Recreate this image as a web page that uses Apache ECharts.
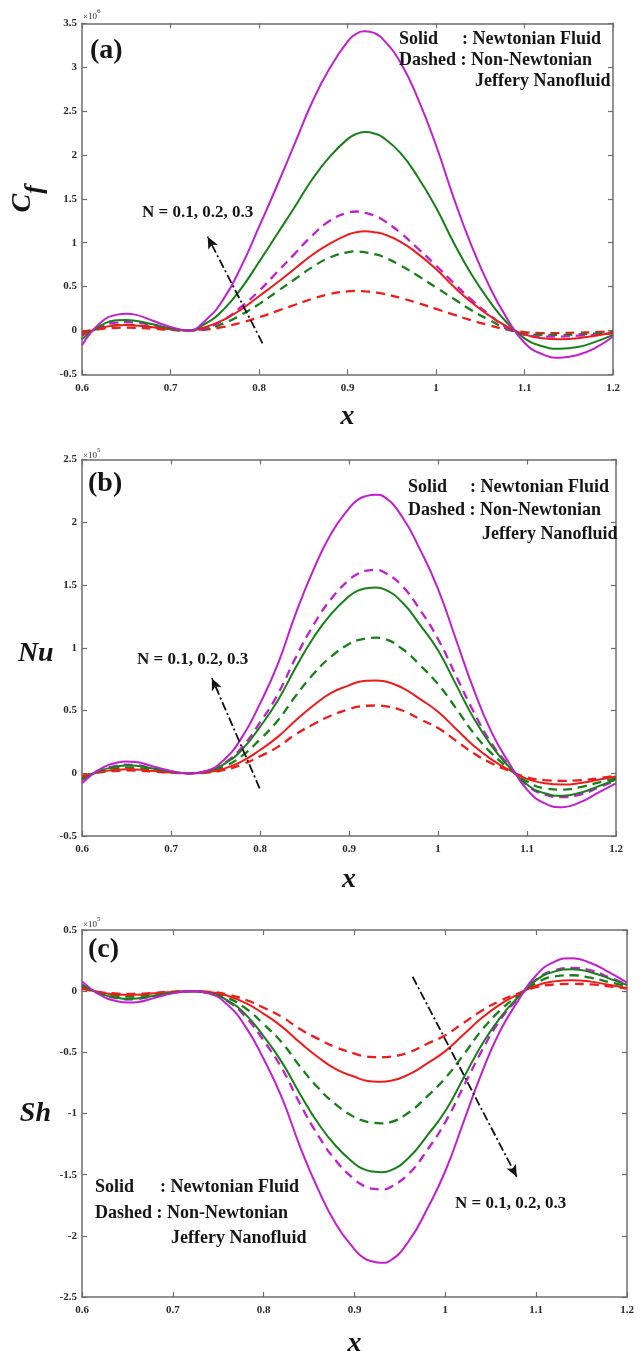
<!DOCTYPE html>
<html>
<head>
<meta charset="utf-8">
<script src="https://cdn.jsdelivr.net/npm/echarts@6/dist/echarts.min.js"></script>
<style>
  html, body { margin: 0; padding: 0; background: #ffffff; }
  #chart { width: 641px; height: 1351px; }
</style>
</head>
<body>
<div id="chart"></div>
<script>
// Axial position x along the channel wall
const xs = [0.60,0.62,0.64,0.65,0.66,0.68,0.70,0.72,0.74,0.76,0.78,0.80,0.82,0.84,0.86,0.88,0.90,0.91,
            0.92,0.93,0.94,0.96,0.98,1.00,1.02,1.04,1.06,1.08,1.10,1.12,1.14,1.16,1.18,1.20];

// Skin friction coefficient C_f (x 10^6)
const cfSolidN1 = [-0.045,0.025,0.058,0.061,0.055,0.035,0.012,0.0,0.04,0.12,0.24,0.39,0.54,0.70,0.86,0.99,1.09,1.12,
                   1.13,1.12,1.10,1.01,0.87,0.70,0.50,0.32,0.17,0.045,-0.045,-0.09,-0.10,-0.09,-0.06,-0.027];
const cfSolidN2 = [-0.10,0.05,0.115,0.12,0.11,0.07,0.025,0.0,0.08,0.24,0.48,0.78,1.09,1.40,1.72,1.98,2.18,2.24,
                   2.26,2.245,2.20,2.02,1.74,1.40,1.00,0.64,0.34,0.09,-0.09,-0.18,-0.21,-0.19,-0.13,-0.05];
const cfSolidN3 = [-0.17,0.08,0.18,0.19,0.18,0.11,0.04,0.0,0.12,0.36,0.73,1.18,1.64,2.12,2.60,2.99,3.29,3.38,
                   3.41,3.39,3.32,3.05,2.63,2.11,1.51,0.97,0.51,0.14,-0.14,-0.27,-0.31,-0.28,-0.20,-0.07];
const cfDashN1  = [-0.02,0.015,0.03,0.032,0.03,0.02,0.006,0.0,0.01,0.04,0.09,0.15,0.22,0.29,0.36,0.415,0.445,0.45,
                   0.445,0.435,0.42,0.37,0.31,0.245,0.18,0.115,0.06,0.01,-0.02,-0.03,-0.03,-0.025,-0.02,-0.01];
const cfDashN2  = [-0.04,0.03,0.06,0.064,0.06,0.04,0.012,0.0,0.02,0.08,0.18,0.30,0.44,0.58,0.72,0.83,0.89,0.90,
                   0.89,0.87,0.84,0.74,0.62,0.49,0.36,0.23,0.12,0.02,-0.04,-0.05,-0.05,-0.045,-0.035,-0.02];
const cfDashN3  = [-0.06,0.045,0.09,0.095,0.09,0.06,0.018,0.0,0.03,0.12,0.27,0.45,0.66,0.87,1.08,1.25,1.34,1.355,
                   1.34,1.31,1.26,1.11,0.93,0.74,0.54,0.35,0.18,0.03,-0.05,-0.07,-0.07,-0.06,-0.05,-0.03];

// Nusselt number Nu (x 10^5)
const nuSolidN1 = [-0.03,0.011,0.028,0.031,0.03,0.018,0.006,0.0,0.007,0.037,0.096,0.185,0.29,0.42,0.54,0.64,0.70,0.727,
                   0.738,0.74,0.733,0.68,0.59,0.49,0.355,0.22,0.11,0.026,-0.045,-0.08,-0.09,-0.078,-0.052,-0.026];
const nuSolidN2 = [-0.05,0.02,0.055,0.062,0.06,0.037,0.012,0.0,0.015,0.075,0.19,0.37,0.58,0.84,1.08,1.27,1.41,1.455,
                   1.475,1.48,1.465,1.36,1.18,0.98,0.71,0.44,0.22,0.05,-0.09,-0.16,-0.18,-0.155,-0.105,-0.05];
const nuSolidN3 = [-0.08,0.03,0.085,0.093,0.09,0.055,0.018,0.0,0.02,0.11,0.29,0.555,0.87,1.27,1.62,1.91,2.11,2.18,
                   2.21,2.22,2.20,2.04,1.78,1.47,1.07,0.67,0.33,0.08,-0.13,-0.24,-0.27,-0.23,-0.155,-0.08];
const nuDashN1  = [-0.02,0.008,0.02,0.023,0.022,0.013,0.004,0.0,0.005,0.027,0.07,0.135,0.21,0.31,0.39,0.46,0.51,0.53,
                   0.538,0.54,0.535,0.50,0.43,0.36,0.26,0.16,0.08,0.019,-0.032,-0.055,-0.06,-0.055,-0.04,-0.02];
const nuDashN2  = [-0.04,0.016,0.04,0.045,0.043,0.027,0.009,0.0,0.011,0.054,0.14,0.27,0.42,0.615,0.79,0.93,1.03,1.06,
                   1.075,1.08,1.07,0.99,0.86,0.71,0.52,0.32,0.16,0.038,-0.065,-0.12,-0.13,-0.11,-0.075,-0.04];
const nuDashN3  = [-0.055,0.025,0.06,0.068,0.065,0.04,0.013,0.0,0.016,0.08,0.21,0.405,0.63,0.92,1.18,1.39,1.54,1.59,
                   1.615,1.62,1.60,1.49,1.30,1.07,0.78,0.49,0.24,0.06,-0.095,-0.17,-0.19,-0.17,-0.115,-0.055];

// Sherwood number Sh (x 10^5)
const shSolidN1 = [0.03,-0.011,-0.028,-0.031,-0.03,-0.018,-0.006,0.0,-0.007,-0.037,-0.096,-0.185,-0.29,-0.42,-0.54,-0.64,-0.70,-0.727,
                   -0.738,-0.74,-0.733,-0.68,-0.59,-0.49,-0.355,-0.22,-0.11,-0.026,0.045,0.08,0.09,0.078,0.052,0.026];
const shSolidN2 = [0.05,-0.02,-0.055,-0.062,-0.06,-0.037,-0.012,0.0,-0.015,-0.075,-0.19,-0.37,-0.58,-0.84,-1.08,-1.27,-1.41,-1.455,
                   -1.475,-1.48,-1.465,-1.36,-1.18,-0.98,-0.71,-0.44,-0.22,-0.05,0.09,0.16,0.18,0.155,0.105,0.05];
const shSolidN3 = [0.08,-0.03,-0.085,-0.093,-0.09,-0.055,-0.018,0.0,-0.02,-0.11,-0.29,-0.555,-0.87,-1.27,-1.62,-1.91,-2.11,-2.18,
                   -2.21,-2.22,-2.20,-2.04,-1.78,-1.47,-1.07,-0.67,-0.33,-0.08,0.13,0.24,0.27,0.23,0.155,0.07];
const shDashN1  = [0.02,-0.008,-0.02,-0.023,-0.022,-0.013,-0.004,0.0,-0.005,-0.027,-0.07,-0.135,-0.21,-0.31,-0.39,-0.46,-0.51,-0.53,
                   -0.538,-0.54,-0.535,-0.50,-0.43,-0.36,-0.26,-0.16,-0.08,-0.019,0.032,0.055,0.06,0.055,0.04,0.02];
const shDashN2  = [0.04,-0.016,-0.04,-0.045,-0.043,-0.027,-0.009,0.0,-0.011,-0.054,-0.14,-0.27,-0.42,-0.615,-0.79,-0.93,-1.03,-1.06,
                   -1.075,-1.08,-1.07,-0.99,-0.86,-0.71,-0.52,-0.32,-0.16,-0.038,0.065,0.12,0.13,0.11,0.075,0.04];
const shDashN3  = [0.055,-0.025,-0.06,-0.068,-0.065,-0.04,-0.013,0.0,-0.016,-0.08,-0.21,-0.405,-0.63,-0.92,-1.18,-1.39,-1.54,-1.59,
                   -1.615,-1.62,-1.60,-1.49,-1.30,-1.07,-0.78,-0.49,-0.24,-0.06,0.095,0.17,0.19,0.17,0.115,0.055];

// Axis ranges
const xRange = [0.6, 1.2, 0.1];
const cfRange = [-0.5, 3.5, 0.5];
const nuRange = [-0.5, 2.5, 0.5];
const shRange = [-2.5, 0.5, 0.5];

// Direction of increasing N: [tail, head] in data units
const cfArrow = [[0.804, -0.147], [0.742, 1.068]];
const nuArrow = [[0.7996, -0.12], [0.746, 0.757]];
const shArrow = [[0.964, 0.118], [1.0786, -1.517]];

const SERIF = '"Liberation Serif", "Times New Roman", serif';
const FRAME = '#6e6e6e';
const colorN = ['#f01c1c', '#178019', '#c21fcf'];

const chart = echarts.init(document.getElementById('chart'), null, { renderer: 'canvas' });

const grids = [
  { left: 82, top: 23.3, width: 531, height: 351, outerBoundsMode: 'none', containLabel: false },
  { left: 82, top: 459.5, width: 534, height: 376.5, outerBoundsMode: 'none', containLabel: false },
  { left: 82, top: 930, width: 545, height: 367, outerBoundsMode: 'none', containLabel: false }
];

const tickLabel = { fontFamily: SERIF, fontWeight: 'bold', fontSize: 11, color: '#2a2a2a' };
const nameFont = { fontFamily: SERIF, fontStyle: 'italic', fontWeight: 'bold', fontSize: 28, color: '#151515' };

function frameAxis(extra) {
  return Object.assign({
    axisLine: { show: true, onZero: false, lineStyle: { color: FRAME, width: 1.5 } },
    axisTick: { show: true, inside: true, length: 5, lineStyle: { color: FRAME, width: 1.2 } },
    splitLine: { show: false }
  }, extra);
}

const xAxes = [], yAxes = [];
const yRanges = [cfRange, nuRange, shRange];
const xNameGaps = [28, 30, 33];
const yNames = [
  { name: '{c|C}{f|f}', nameRotate: 90, nameGap: 32,
    nameTextStyle: { rich: {
      c: Object.assign({}, nameFont, { fontSize: 28, lineHeight: 40, verticalAlign: 'top' }),
      f: Object.assign({}, nameFont, { fontSize: 26, lineHeight: 40, verticalAlign: 'bottom' })
    } } },
  { name: 'Nu', nameRotate: 0, nameGap: 24,
    nameTextStyle: Object.assign({}, nameFont, { verticalAlign: 'top', lineHeight: 12 }) },
  { name: 'Sh', nameRotate: 0, nameGap: 31, nameTextStyle: Object.assign({}, nameFont) }
];

grids.forEach((g, i) => {
  xAxes.push(frameAxis({
    gridIndex: i, type: 'value', position: 'bottom',
    min: xRange[0], max: xRange[1], interval: xRange[2],
    axisLabel: Object.assign({ margin: 8 }, tickLabel),
    name: 'x', nameLocation: 'middle', nameGap: xNameGaps[i], nameTextStyle: nameFont
  }));
  xAxes.push(frameAxis({
    gridIndex: i, type: 'value', position: 'top',
    min: xRange[0], max: xRange[1], interval: xRange[2],
    axisLabel: { show: false }
  }));
  const r = yRanges[i];
  yAxes.push(frameAxis(Object.assign({
    gridIndex: i, type: 'value', position: 'left',
    min: r[0], max: r[1], interval: r[2],
    axisLabel: Object.assign({ margin: 5 }, tickLabel),
    nameLocation: 'middle'
  }, yNames[i])));
  yAxes.push(frameAxis({
    gridIndex: i, type: 'value', position: 'right',
    min: r[0], max: r[1], interval: r[2],
    axisLabel: { show: false }
  }));
});

function pairs(vals) { return xs.map((x, k) => [x, vals[k]]); }

function curve(gi, vals, n, dashed) {
  return {
    type: 'line', xAxisIndex: gi * 2, yAxisIndex: gi * 2,
    data: pairs(vals), showSymbol: false, symbol: 'none',
    smooth: 0.5,
    silent: true, z: dashed ? 3 : 4,
    lineStyle: { color: colorN[n], width: dashed ? 2.3 : 2, type: dashed ? [9, 6] : 'solid' }
  };
}

function arrowLine(arrow) {
  return {
    silent: true, animation: false,
    symbol: ['none', 'arrow'], symbolSize: [8, 12],
    label: { show: false },
    lineStyle: { color: '#111111', width: 1.8, type: [9, 3, 2, 3] },
    emphasis: { disabled: true },
    data: [[{ coord: arrow[0] }, { coord: arrow[1] }]]
  };
}

const panels = [
  { solid: [cfSolidN1, cfSolidN2, cfSolidN3], dash: [cfDashN1, cfDashN2, cfDashN3], arrow: cfArrow },
  { solid: [nuSolidN1, nuSolidN2, nuSolidN3], dash: [nuDashN1, nuDashN2, nuDashN3], arrow: nuArrow },
  { solid: [shSolidN1, shSolidN2, shSolidN3], dash: [shDashN1, shDashN2, shDashN3], arrow: shArrow }
];

const series = [];
panels.forEach((p, gi) => {
  p.dash.forEach((v, n) => series.push(curve(gi, v, n, true)));
  p.solid.forEach((v, n) => series.push(curve(gi, v, n, false)));
  // the N-direction arrow rides on the first curve of each panel
  series[series.length - 6].markLine = arrowLine(p.arrow);
});

// Annotation text
const legendFont = 'bold 18px ' + SERIF;
const tagFont = 'bold 28px ' + SERIF;
const nFont = 'bold 17px ' + SERIF;
function txt(left, top, text, font) {
  return { type: 'text', left: left, top: top, silent: true, z: 50,
           style: { text: text, font: font, fill: '#161616' } };
}
function expo(left, top, p) {
  return { type: 'text', left: left, top: top, silent: true, z: 50,
    style: { text: '{a|×10}{s|' + p + '}', fill: '#333',
      rich: { a: { fontFamily: SERIF, fontSize: 9, lineHeight: 13, verticalAlign: 'bottom', fill: '#333' },
              s: { fontFamily: SERIF, fontSize: 7, lineHeight: 13, verticalAlign: 'top', fill: '#333' } } } };
}

const graphic = [
  txt(90, 37, '(a)', tagFont),
  txt(88, 470, '(b)', tagFont),
  txt(88, 936, '(c)', tagFont),
  expo(83, 8, 6), expo(83, 447, 5), expo(83, 916, 5),

  txt(399, 30, 'Solid', legendFont),
  txt(462, 30, ': Newtonian Fluid', legendFont),
  txt(399, 51, 'Dashed : Non-Newtonian', legendFont),
  txt(475, 72, 'Jeffery Nanofluid', legendFont),

  txt(408, 478, 'Solid', legendFont),
  txt(470, 478, ': Newtonian Fluid', legendFont),
  txt(408, 501, 'Dashed : Non-Newtonian', legendFont),
  txt(482, 525, 'Jeffery Nanofluid', legendFont),

  txt(95, 1178, 'Solid', legendFont),
  txt(160, 1178, ': Newtonian Fluid', legendFont),
  txt(95, 1204, 'Dashed : Non-Newtonian', legendFont),
  txt(171, 1229, 'Jeffery Nanofluid', legendFont),

  txt(142, 204, 'N = 0.1, 0.2, 0.3', nFont),
  txt(137, 651, 'N = 0.1, 0.2, 0.3', nFont),
  txt(455, 1195, 'N = 0.1, 0.2, 0.3', nFont)
];

chart.setOption({
  animation: false,
  backgroundColor: '#ffffff',
  grid: grids,
  xAxis: xAxes,
  yAxis: yAxes,
  series: series,
  graphic: graphic
});
</script>
</body>
</html>
